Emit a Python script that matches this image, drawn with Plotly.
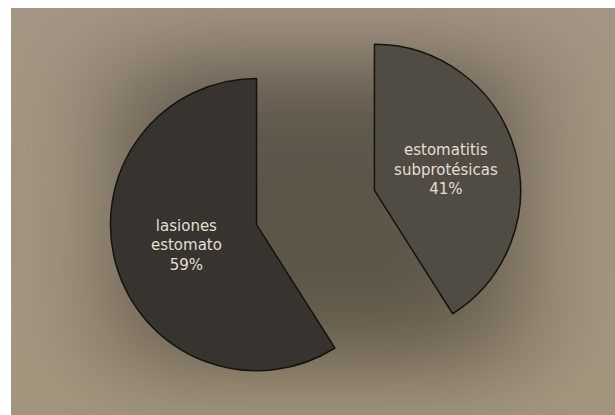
import base64
import struct
import zlib

import numpy as np
import plotly.graph_objects as go

# ---- data ----
labels = ["estomatitis<br>subprotésicas", "lasiones<br>estomato"]
values = [41, 59]

# ---- background image (tan card with soft dark centre, white border) ----
W, H = 615, 415


def png_data_uri(rgb):
    h, w, _ = rgb.shape
    raw = b"".join(b"\x00" + rgb[y].tobytes() for y in range(h))

    def chunk(tag, data):
        c = struct.pack(">I", len(data)) + tag + data
        return c + struct.pack(">I", zlib.crc32(tag + data) & 0xFFFFFFFF)

    png = b"\x89PNG\r\n\x1a\n"
    png += chunk(b"IHDR", struct.pack(">IIBBBBB", w, h, 8, 2, 0, 0, 0))
    png += chunk(b"IDAT", zlib.compress(raw, 9))
    png += chunk(b"IEND", b"")
    return "data:image/png;base64," + base64.b64encode(png).decode()


yy, xx = np.mgrid[0:H, 0:W].astype(float)
base = np.array([164, 150, 132], dtype=float)
d = np.exp(-(((xx - 318) / 215) ** 4) - (((yy - 212) / 165) ** 4))
img = base[None, None, :] * (1 - 0.43 * d[..., None])
img[..., 2] -= 6 * (yy / H)
img = np.clip(img, 0, 255)
img[:8, :, :] = 255
img[:, :11, :] = 255
bg_uri = png_data_uri(img.astype(np.uint8))

fig = go.Figure(
    go.Pie(
        labels=labels,
        values=values,
        sort=False,
        direction="clockwise",
        rotation=0,
        pull=[0.42, 0.42],
        textinfo="label+percent",
        textposition="inside",
        insidetextorientation="horizontal",
        textfont=dict(family="DejaVu Sans", size=15, color="#e2ded2"),
        marker=dict(colors=["#514c43", "#37342f"], line=dict(color="#15130f", width=1.5)),
        domain=dict(x=[0.026, 1.0], y=[0.0, 1.0]),
        hoverinfo="label+percent",
    )
)

fig.update_layout(
    width=W,
    height=H,
    margin=dict(l=0, r=0, t=0, b=0),
    paper_bgcolor="white",
    showlegend=False,
    images=[
        dict(
            source=bg_uri,
            xref="paper",
            yref="paper",
            x=0,
            y=1,
            sizex=1,
            sizey=1,
            sizing="stretch",
            xanchor="left",
            yanchor="top",
            layer="below",
        )
    ],
)

fig.write_html("out.html")
